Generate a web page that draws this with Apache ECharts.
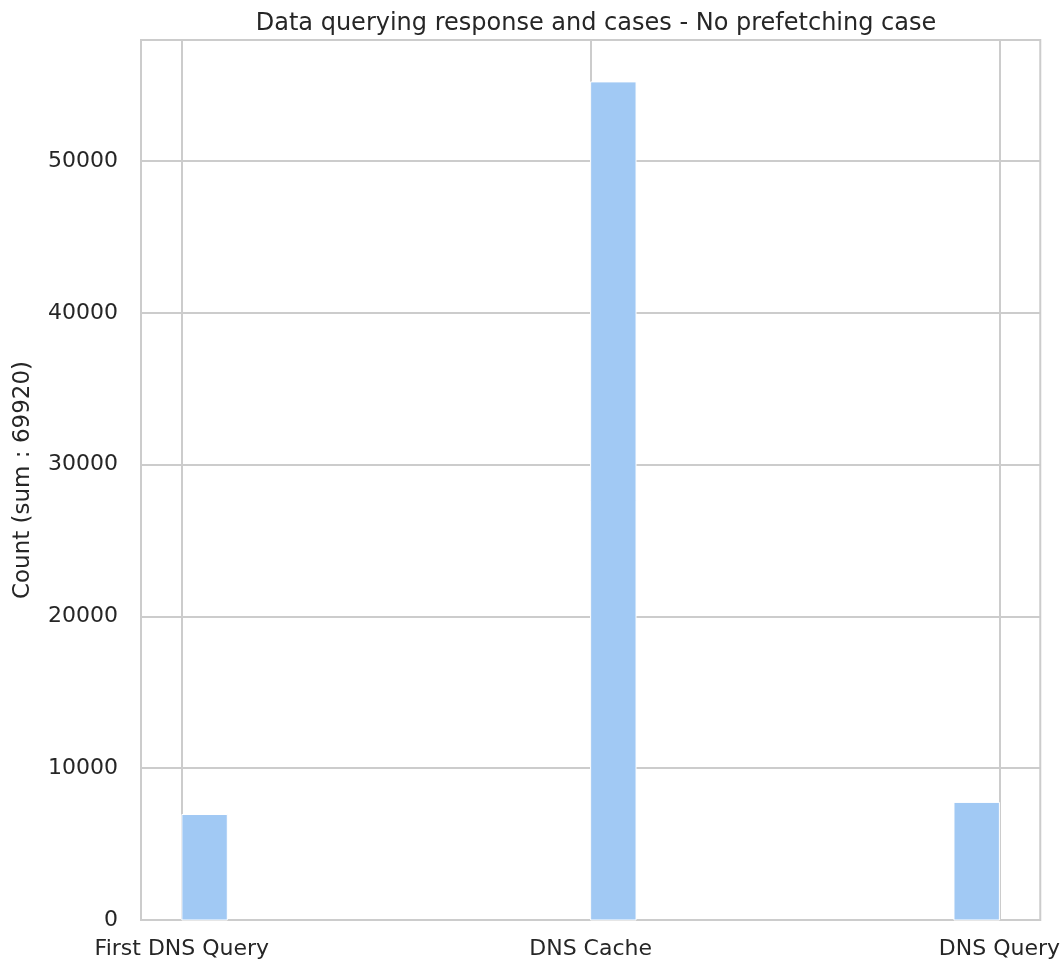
<!DOCTYPE html>
<html>
<head>
<meta charset="utf-8">
<script src="https://cdn.jsdelivr.net/npm/echarts@6/dist/echarts.min.js"></script>
<style>
  html, body { margin: 0; padding: 0; background: #fff; }
  #chart { width: 1063px; height: 962px; }
</style>
</head>
<body>
<div id="chart"></div>
<script>
// histogram of response cases, 18 bins over [0, 2]
const categories = ['First DNS Query', 'DNS Cache', 'DNS Query']
const categoryPos = [0, 1, 2]
const binStart = [0, 1, 1.8889]
const binEnd = [0.1111, 1.1111, 2]
const counts = [6950, 55220, 7750]
const yTicks = [0, 10000, 20000, 30000, 40000, 50000]

const total = counts.reduce((a, b) => a + b, 0)
const textColor = '#262626'
const gridColor = '#cccccc'

const chart = echarts.init(document.getElementById('chart'))

const bins = counts.map((c, i) => [binStart[i], binEnd[i], c])

const option = {
  animation: false,
  backgroundColor: '#fff',
  textStyle: { fontFamily: 'DejaVu Sans' },
  title: {
    text: 'Data querying response and cases - No prefetching case',
    left: 591,
    textAlign: 'center',
    top: 7,
    textStyle: { fontFamily: 'DejaVu Sans', fontSize: 24, fontWeight: 'normal', color: textColor }
  },
  grid: {
    left: 141,
    right: 22,
    top: 40,
    bottom: 42,
    show: true,
    borderColor: gridColor,
    borderWidth: 2
  },
  xAxis: {
    type: 'value',
    min: -0.1,
    max: 2.1,
    axisLine: { show: false },
    axisTick: { show: false, customValues: categoryPos },
    axisLabel: {
      customValues: categoryPos,
      formatter: v => categories[Math.round(v)],
      fontSize: 22,
      color: textColor,
      margin: 18
    },
    splitLine: { show: true, lineStyle: { color: gridColor, width: 2 } }
  },
  yAxis: {
    type: 'value',
    min: 0,
    max: Math.max(...counts) * 1.05,
    interval: 10000,
    name: 'Count (sum : ' + total + ')',
    nameLocation: 'middle',
    nameGap: 106,
    nameTextStyle: { fontSize: 23, color: textColor },
    axisLine: { show: false },
    axisTick: { show: false },
    axisLabel: {
      showMaxLabel: false,
      formatter: v => yTicks.includes(v) ? String(v) : '',
      fontSize: 22,
      color: textColor,
      margin: 23
    },
    splitLine: { show: true, lineStyle: { color: gridColor, width: 2 } }
  },
  series: [
    {
      type: 'custom',
      data: bins,
      encode: { x: [0, 1], y: 2 },
      renderItem: function (params, api) {
        const p0 = api.coord([api.value(0), api.value(2)])
        const p1 = api.coord([api.value(1), 0])
        return {
          type: 'rect',
          shape: { x: p0[0], y: p0[1], width: p1[0] - p0[0], height: p1[1] - p0[1] },
          style: { fill: '#a1c9f4', stroke: '#ffffff', lineWidth: 1 }
        }
      }
    }
  ]
}

chart.setOption(option)
</script>
</body>
</html>
